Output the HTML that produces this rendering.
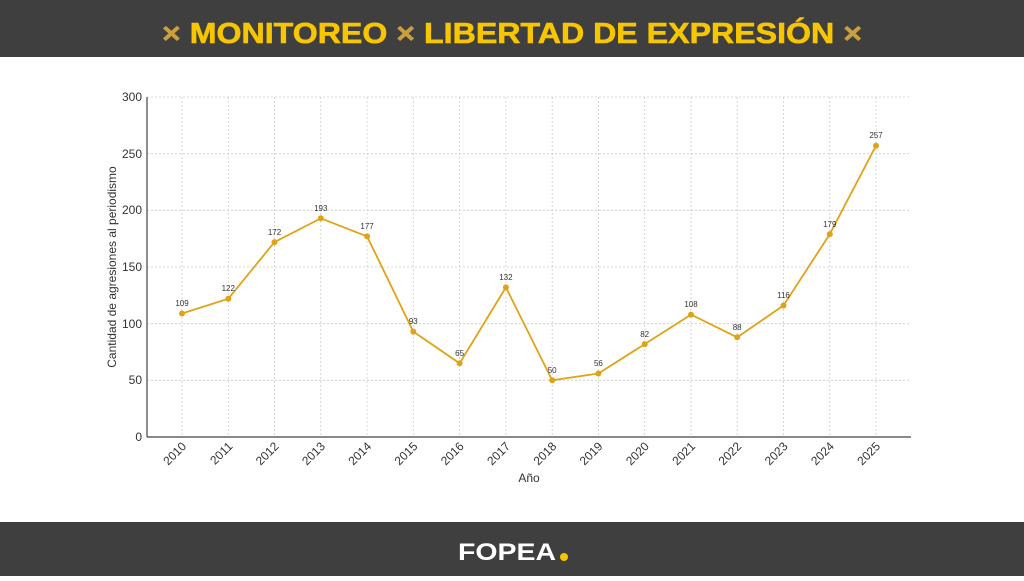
<!DOCTYPE html><html><head><meta charset="utf-8"><style>body{margin:0;width:1024px;height:576px;overflow:hidden;background:#fff;font-family:"Liberation Sans",sans-serif}</style></head><body>
<svg width="1024" height="576" xmlns="http://www.w3.org/2000/svg" font-family="Liberation Sans, DejaVu Sans, sans-serif">
<rect x="0" y="0" width="1024" height="57" fill="#3f3f3f"/>
<text x="512" y="43" text-anchor="middle" font-size="29" font-weight="bold" fill="#f7c600" textLength="700" lengthAdjust="spacingAndGlyphs" stroke="#f7c600" stroke-width="0.6"><tspan fill="#c9a040" stroke="#c9a040">× </tspan>MONITOREO <tspan fill="#c9a040" stroke="#c9a040">× </tspan>LIBERTAD DE EXPRESIÓN <tspan fill="#c9a040" stroke="#c9a040">×</tspan></text>
<rect x="0" y="522" width="1024" height="54" fill="#3f3f3f"/>
<text x="458" y="560" font-size="24" font-weight="bold" fill="#fff" textLength="98" lengthAdjust="spacingAndGlyphs">FOPEA</text>
<circle cx="564" cy="557" r="4" fill="#f7c600"/>
<g stroke="#ccc" stroke-width="0.8" stroke-dasharray="2,2">
<line x1="147" x2="911" y1="97" y2="97"/><line x1="147" x2="911" y1="153.7" y2="153.7"/><line x1="147" x2="911" y1="210.3" y2="210.3"/><line x1="147" x2="911" y1="267" y2="267"/><line x1="147" x2="911" y1="323.7" y2="323.7"/><line x1="147" x2="911" y1="380.3" y2="380.3"/>
<line x1="182" x2="182" y1="97" y2="437"/><line x1="228.3" x2="228.3" y1="97" y2="437"/><line x1="274.5" x2="274.5" y1="97" y2="437"/><line x1="320.8" x2="320.8" y1="97" y2="437"/><line x1="367.1" x2="367.1" y1="97" y2="437"/><line x1="413.3" x2="413.3" y1="97" y2="437"/><line x1="459.6" x2="459.6" y1="97" y2="437"/><line x1="505.9" x2="505.9" y1="97" y2="437"/><line x1="552.2" x2="552.2" y1="97" y2="437"/><line x1="598.4" x2="598.4" y1="97" y2="437"/><line x1="644.7" x2="644.7" y1="97" y2="437"/><line x1="691" x2="691" y1="97" y2="437"/><line x1="737.2" x2="737.2" y1="97" y2="437"/><line x1="783.5" x2="783.5" y1="97" y2="437"/><line x1="829.8" x2="829.8" y1="97" y2="437"/><line x1="876" x2="876" y1="97" y2="437"/>
</g>
<g stroke="#444" stroke-width="1.2"><line x1="147" y1="97" x2="147" y2="437"/><line x1="147" y1="437" x2="911" y2="437"/></g>
<g font-size="12" fill="#333" text-anchor="end">
<text x="142" y="101">300</text><text x="142" y="158">250</text><text x="142" y="214">200</text><text x="142" y="271">150</text><text x="142" y="328">100</text><text x="142" y="384">50</text><text x="142" y="441">0</text>
</g>
<g font-size="12" fill="#333" text-anchor="end">
<text transform="translate(187,447) rotate(-45)">2010</text><text transform="translate(233.3,447) rotate(-45)">2011</text><text transform="translate(279.5,447) rotate(-45)">2012</text><text transform="translate(325.8,447) rotate(-45)">2013</text><text transform="translate(372.1,447) rotate(-45)">2014</text><text transform="translate(418.3,447) rotate(-45)">2015</text><text transform="translate(464.6,447) rotate(-45)">2016</text><text transform="translate(510.9,447) rotate(-45)">2017</text><text transform="translate(557.2,447) rotate(-45)">2018</text><text transform="translate(603.4,447) rotate(-45)">2019</text><text transform="translate(649.7,447) rotate(-45)">2020</text><text transform="translate(696,447) rotate(-45)">2021</text><text transform="translate(742.2,447) rotate(-45)">2022</text><text transform="translate(788.5,447) rotate(-45)">2023</text><text transform="translate(834.8,447) rotate(-45)">2024</text><text transform="translate(881,447) rotate(-45)">2025</text>
</g>
<text x="529" y="482" font-size="12" fill="#333" text-anchor="middle">Año</text>
<text transform="translate(116,267) rotate(-90)" font-size="12" fill="#333" text-anchor="middle">Cantidad de agresiones al periodismo</text>
<polyline fill="none" stroke="#e0a317" stroke-width="1.8" points="182,313.5 228.3,298.7 274.5,242.1 320.8,218.3 367.1,236.4 413.3,331.6 459.6,363.3 505.9,287.4 552.2,380.3 598.4,373.5 644.7,344.1 691,314.6 737.2,337.3 783.5,305.5 829.8,234.1 876,145.7"/>
<g fill="#e0a317"><circle cx="182" cy="313.5" r="3"/><circle cx="228.3" cy="298.7" r="3"/><circle cx="274.5" cy="242.1" r="3"/><circle cx="320.8" cy="218.3" r="3"/><circle cx="367.1" cy="236.4" r="3"/><circle cx="413.3" cy="331.6" r="3"/><circle cx="459.6" cy="363.3" r="3"/><circle cx="505.9" cy="287.4" r="3"/><circle cx="552.2" cy="380.3" r="3"/><circle cx="598.4" cy="373.5" r="3"/><circle cx="644.7" cy="344.1" r="3"/><circle cx="691" cy="314.6" r="3"/><circle cx="737.2" cy="337.3" r="3"/><circle cx="783.5" cy="305.5" r="3"/><circle cx="829.8" cy="234.1" r="3"/><circle cx="876" cy="145.7" r="3"/></g>
<g font-size="8" fill="#333" text-anchor="middle">
<text x="182" y="306">109</text><text x="228.3" y="291">122</text><text x="274.5" y="235">172</text><text x="320.8" y="211">193</text><text x="367.1" y="229">177</text><text x="413.3" y="324">93</text><text x="459.6" y="356">65</text><text x="505.9" y="280">132</text><text x="552.2" y="373">50</text><text x="598.4" y="366">56</text><text x="644.7" y="337">82</text><text x="691" y="307">108</text><text x="737.2" y="330">88</text><text x="783.5" y="298">116</text><text x="829.8" y="227">179</text><text x="876" y="138">257</text>
</g>
</svg></body></html>
